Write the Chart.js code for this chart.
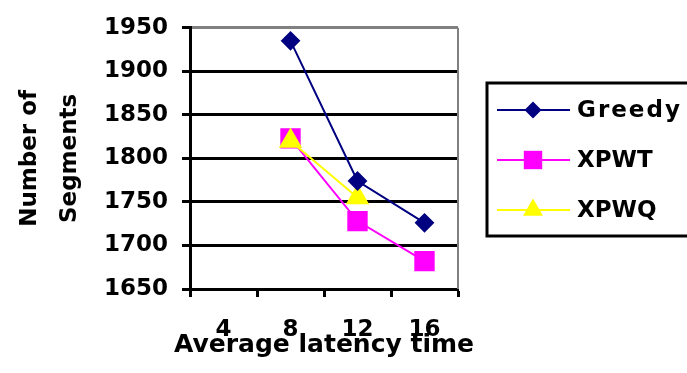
<!DOCTYPE html>
<html lang="en">
<head>
    <meta charset="UTF-8">
    <title>Number of Segments vs Average latency time</title>
    <script src="https://cdn.jsdelivr.net/npm/chart.js"></script>
    <style>
        html, body {
            margin: 0;
            padding: 0;
            background: white;
            overflow: hidden;
        }
        #wrap {
            width: 687px;
            height: 373px;
        }
    </style>
</head>
<body>
    <div id="wrap">
        <canvas id="chart" width="687" height="373"></canvas>
    </div>

    <script>
        // data
        const latencyLabels = ['4', '8', '12', '16'];
        const greedyValues = [null, 1935, 1774, 1726];
        const xpwtValues = [null, 1823, 1728, 1682];
        const xpwqValues = [null, 1820, 1755, null];

        const FONT = "'DejaVu Sans', sans-serif";
        const xTitle = 'Average latency time';

        // gray frame on the right of the plot
        const plotFrame = {
            id: 'plotFrame',
            afterDatasetsDraw(chart) {
                const { ctx, chartArea } = chart;
                ctx.save();
                ctx.strokeStyle = '#808080';
                ctx.lineWidth = 2;
                ctx.beginPath();
                ctx.moveTo(chartArea.right, chartArea.top);
                ctx.lineTo(chartArea.right, chartArea.bottom);
                ctx.stroke();
                ctx.restore();
            }
        };

        // x title is wider than the plot, so draw it without Chart.js squeezing it
        const wideXTitle = {
            id: 'wideXTitle',
            afterDraw(chart) {
                const { ctx, chartArea } = chart;
                ctx.save();
                ctx.fillStyle = '#000';
                ctx.font = "bold 25px " + FONT;
                ctx.textAlign = 'center';
                ctx.textBaseline = 'middle';
                ctx.fillText(xTitle, (chartArea.left + chartArea.right) / 2, 345);
                ctx.restore();
            }
        };

        // boxed legend (runs off the right edge), line + marker per series
        const boxLegend = {
            id: 'boxLegend',
            afterDraw(chart) {
                const ctx = chart.ctx;
                ctx.save();
                ctx.strokeStyle = '#000';
                ctx.lineWidth = 3;
                ctx.strokeRect(487, 83, 230, 153);
                chart.data.datasets.forEach((ds, i) => {
                    const y = 110 + i * 50;
                    ctx.strokeStyle = ds.borderColor;
                    ctx.lineWidth = 2;
                    ctx.beginPath();
                    ctx.moveTo(497, y);
                    ctx.lineTo(570, y);
                    ctx.stroke();
                    ctx.fillStyle = ds.pointBackgroundColor;
                    Chart.helpers.drawPoint(ctx, {
                        pointStyle: ds.pointStyle,
                        radius: ds.pointRadius,
                        borderWidth: 0,
                        rotation: 0
                    }, 533, y);
                    ctx.fillStyle = '#000';
                    ctx.font = "bold 23px " + FONT;
                    ctx.letterSpacing = ds.label === 'Greedy' ? '2px' : '0px';
                    ctx.textBaseline = 'middle';
                    ctx.fillText(ds.label, 577, y + 1);
                });
                ctx.restore();
            }
        };

        new Chart(document.getElementById('chart'), {
            type: 'line',
            data: {
                labels: latencyLabels,
                datasets: [
                    {
                        label: 'Greedy',
                        data: greedyValues,
                        borderColor: '#000080',
                        backgroundColor: '#000080',
                        pointBackgroundColor: '#000080',
                        pointBorderColor: '#000080',
                        pointStyle: 'rectRot',
                        pointRadius: 8.5,
                        borderWidth: 2,
                        order: 0
                    },
                    {
                        label: 'XPWT',
                        data: xpwtValues,
                        borderColor: '#ff00ff',
                        backgroundColor: '#ff00ff',
                        pointBackgroundColor: '#ff00ff',
                        pointBorderColor: '#ff00ff',
                        pointStyle: 'rect',
                        pointRadius: 13,
                        borderWidth: 2,
                        order: 2
                    },
                    {
                        label: 'XPWQ',
                        data: xpwqValues,
                        borderColor: '#ffff00',
                        backgroundColor: '#ffff00',
                        pointBackgroundColor: '#ffff00',
                        pointBorderColor: '#ffff00',
                        pointStyle: 'triangle',
                        pointRadius: 11.5,
                        borderWidth: 2,
                        order: 1
                    }
                ]
            },
            options: {
                responsive: false,
                animation: false,
                layout: {
                    padding: { top: 20, right: 229, bottom: 0, left: 0 }
                },
                plugins: {
                    legend: { display: false },
                    tooltip: { enabled: false }
                },
                elements: {
                    point: { borderWidth: 0 },
                    line: { tension: 0 }
                },
                scales: {
                    x: {
                        offset: true,
                        afterFit(scale) { scale.height = 84; },
                        grid: {
                            offset: true,
                            drawOnChartArea: false,
                            tickLength: 8,
                            tickWidth: 3,
                            tickColor: '#000'
                        },
                        border: { color: '#000', width: 3 },
                        ticks: {
                            color: '#000',
                            padding: 19,
                            maxRotation: 0,
                            font: { family: FONT, size: 23, weight: 'bold' }
                        }
                    },
                    y: {
                        min: 1650,
                        max: 1950,
                        afterFit(scale) { scale.width = 190; },
                        grid: {
                            color: ctx => ctx.tick && ctx.tick.value === 1950 ? '#808080' : '#000',
                            lineWidth: 3,
                            tickLength: 8,
                            tickWidth: 3,
                            tickColor: '#000'
                        },
                        border: { color: '#000', width: 3 },
                        ticks: {
                            stepSize: 50,
                            color: '#000',
                            padding: 14,
                            callback: v => String(v),
                            font: { family: FONT, size: 23, weight: 'bold' }
                        },
                        title: {
                            display: true,
                            text: ['Number of', 'Segments'],
                            color: '#000',
                            padding: { top: 10, bottom: 0 },
                            font: { family: FONT, size: 23, weight: 'bold', lineHeight: 1.74 }
                        }
                    }
                }
            },
            plugins: [plotFrame, wideXTitle, boxLegend]
        });
    </script>
</body>
</html>
